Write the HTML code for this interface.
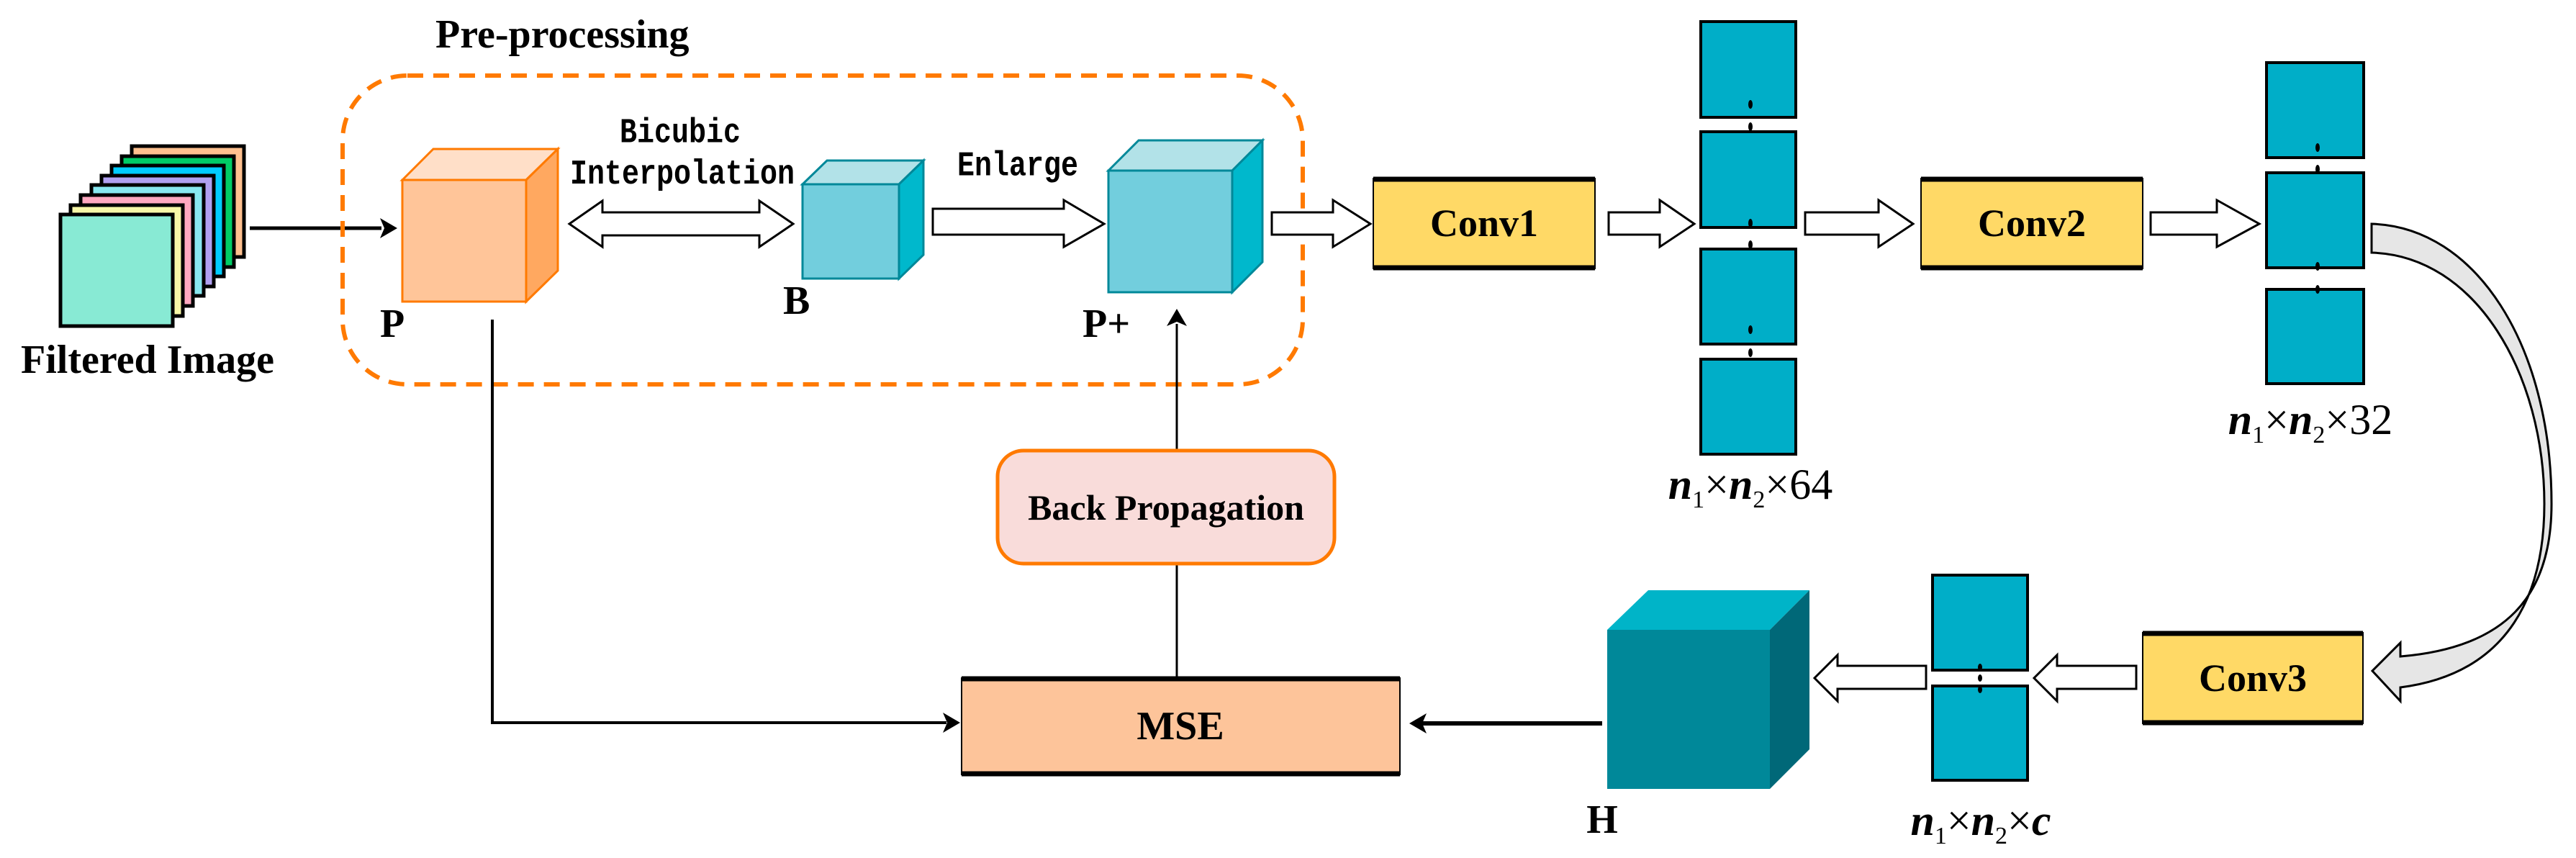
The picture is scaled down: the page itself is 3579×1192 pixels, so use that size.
<!DOCTYPE html>
<html><head><meta charset="utf-8"><style>
html,body{margin:0;padding:0;background:#fff;}
svg{display:block;}
.t{font-family:"Liberation Serif",serif;font-weight:bold;fill:#000;}
.m{font-family:"Liberation Mono",monospace;font-weight:bold;fill:#000;}
</style></head><body>
<svg width="3579" height="1192" viewBox="0 0 3579 1192" xmlns="http://www.w3.org/2000/svg">
<!-- Filtered image stack -->
<g stroke="#000" stroke-width="5">
<rect x="183" y="203" width="156" height="154" fill="#FFC08F"/>
<rect x="169" y="217" width="156" height="154" fill="#00CC66"/>
<rect x="155" y="230" width="156" height="154" fill="#00CCFF"/>
<rect x="141" y="244" width="156" height="154" fill="#B0A0F0"/>
<rect x="127" y="257" width="156" height="154" fill="#88E8F0"/>
<rect x="112" y="271" width="156" height="154" fill="#FFA8C0"/>
<rect x="98" y="285" width="156" height="154" fill="#F8F8A8"/>
<rect x="84" y="298" width="156" height="155" fill="#88EAD4"/>
</g>
<text class="t" x="205" y="518" font-size="56" text-anchor="middle">Filtered Image</text>
<line x1="347" y1="317" x2="530" y2="317" stroke="#000" stroke-width="5"/>
<polygon points="552,317 528,303 534,317 528,331" fill="#000"/>

<!-- dashed pre-processing box -->
<rect x="476" y="105" width="1334" height="429" rx="90" fill="none" stroke="#FF7A00" stroke-width="6" stroke-dasharray="22 14"/>
<text class="t" x="605" y="66" font-size="56">Pre-processing</text>

<!-- P cube -->
<g stroke="#FF7A00" stroke-width="3">
<polygon points="559,250 602,207 775,207 731,250" fill="#FFDFC8"/>
<polygon points="731,250 775,207 775,376 731,419" fill="#FFA860"/>
<rect x="559" y="250" width="172" height="169" fill="#FFC599"/>
</g>
<text class="t" x="528" y="468" font-size="56">P</text>

<!-- double arrow -->
<polygon points="791,311 837,279 837,295 1055,295 1055,279 1102,311 1055,343 1055,327 837,327 837,343" fill="#fff" stroke="#000" stroke-width="3"/>
<text class="m" x="945" y="197" font-size="40" text-anchor="middle" transform="translate(0,-39) scale(1,1.2)">Bicubic</text>
<text class="m" x="948" y="255" font-size="40" text-anchor="middle" transform="translate(0,-51) scale(1,1.2)">Interpolation</text>

<!-- B cube -->
<g stroke="#008899" stroke-width="3">
<polygon points="1115,256 1149,223 1283,223 1249,256" fill="#B2E2E8"/>
<polygon points="1249,256 1283,223 1283,354 1249,387" fill="#00B8CC"/>
<rect x="1115" y="256" width="134" height="131" fill="#72CEDD"/>
</g>
<text class="t" x="1088" y="436" font-size="56">B</text>

<!-- Enlarge arrow -->
<polygon points="1296,290 1478,290 1478,278 1534,311 1478,343 1478,326 1296,326" fill="#fff" stroke="#000" stroke-width="3"/>
<text class="m" x="1414" y="243" font-size="40" text-anchor="middle" transform="translate(0,-48) scale(1,1.2)">Enlarge</text>

<!-- P+ cube -->
<g stroke="#008899" stroke-width="3">
<polygon points="1540,237 1582,195 1754,195 1712,237" fill="#B2E2E8"/>
<polygon points="1712,237 1754,195 1754,364 1712,406" fill="#00B8CC"/>
<rect x="1540" y="237" width="172" height="169" fill="#72CEDD"/>
</g>
<text class="t" x="1504" y="468" font-size="56">P+</text>

<!-- arrows top row -->
<g fill="#fff" stroke="#000" stroke-width="3">
<polygon points="1767,295 1852,295 1852,278 1904,311 1852,343 1852,326 1767,326"/>
<polygon points="2235,295 2306,295 2306,278 2354,311 2306,343 2306,326 2235,326"/>
<polygon points="2508,295 2610,295 2610,278 2658,311 2610,343 2610,326 2508,326"/>
<polygon points="2988,295 3080,295 3080,278 3139,311 3080,343 3080,326 2988,326"/>
</g>

<!-- Conv boxes -->
<g stroke="#000" stroke-width="2" fill="#FFD966">
<rect x="1908" y="248" width="308" height="125"/>
<rect x="2669" y="248" width="308" height="125"/>
<rect x="2977" y="879" width="306" height="126"/>
</g>
<g stroke="#000" stroke-width="7">
<line x1="1908" y1="249" x2="2216" y2="249"/><line x1="1908" y1="372" x2="2216" y2="372"/>
<line x1="2669" y1="249" x2="2977" y2="249"/><line x1="2669" y1="372" x2="2977" y2="372"/>
<line x1="2977" y1="880" x2="3283" y2="880"/><line x1="2977" y1="1004" x2="3283" y2="1004"/>
</g>
<text class="t" x="2062" y="328" font-size="54" text-anchor="middle">Conv1</text>
<text class="t" x="2823" y="328" font-size="54" text-anchor="middle">Conv2</text>
<text class="t" x="3130" y="960" font-size="54" text-anchor="middle">Conv3</text>

<!-- fmaps -->
<g fill="#00AEC8" stroke="#000" stroke-width="4">
<rect x="2363" y="30" width="132" height="133"/>
<rect x="2363" y="183" width="132" height="133"/>
<rect x="2363" y="346" width="132" height="132"/>
<rect x="2363" y="499" width="132" height="132"/>
<rect x="3149" y="87" width="135" height="132"/>
<rect x="3149" y="240" width="135" height="132"/>
<rect x="3149" y="402" width="135" height="131"/>
<rect x="2685" y="799" width="132" height="132"/>
<rect x="2685" y="953" width="132" height="131"/>
</g>
<g fill="#000">
<ellipse cx="2432" cy="145" rx="3" ry="6"/><ellipse cx="2432" cy="176" rx="3" ry="6"/>
<ellipse cx="2432" cy="310" rx="3" ry="6"/><ellipse cx="2432" cy="340" rx="3" ry="6"/>
<ellipse cx="2432" cy="458" rx="3" ry="6"/><ellipse cx="2432" cy="490" rx="3" ry="6"/>
<ellipse cx="3220" cy="205" rx="3" ry="6"/><ellipse cx="3220" cy="235" rx="3" ry="6"/>
<ellipse cx="3220" cy="370" rx="3" ry="6"/><ellipse cx="3220" cy="402" rx="3" ry="6"/>
<ellipse cx="2751" cy="927" rx="3" ry="5"/><ellipse cx="2751" cy="942" rx="3" ry="5"/><ellipse cx="2751" cy="958" rx="3" ry="5"/>
</g>
<text class="t" x="2432" y="693" font-size="60" text-anchor="middle"><tspan font-style="italic">n</tspan><tspan font-size="34" font-weight="normal" dy="12">1</tspan><tspan font-weight="normal" dy="-12">×</tspan><tspan font-style="italic">n</tspan><tspan font-size="34" font-weight="normal" dy="12">2</tspan><tspan font-weight="normal" dy="-12">×64</tspan></text>
<text class="t" x="3210" y="603" font-size="60" text-anchor="middle"><tspan font-style="italic">n</tspan><tspan font-size="34" font-weight="normal" dy="12">1</tspan><tspan font-weight="normal" dy="-12">×</tspan><tspan font-style="italic">n</tspan><tspan font-size="34" font-weight="normal" dy="12">2</tspan><tspan font-weight="normal" dy="-12">×32</tspan></text>
<text class="t" x="2752" y="1160" font-size="60" text-anchor="middle"><tspan font-style="italic">n</tspan><tspan font-size="34" font-weight="normal" dy="12">1</tspan><tspan font-weight="normal" dy="-12">×</tspan><tspan font-style="italic">n</tspan><tspan font-size="34" font-weight="normal" dy="12">2</tspan><tspan font-weight="normal" dy="-12">×</tspan><tspan font-style="italic">c</tspan></text>

<!-- curved arrow -->
<path d="M3295,311 C3440,315 3545,480 3545,700 C3545,830 3480,900 3335,912 L3335,893 L3296,932 L3335,974 L3335,955 C3490,935 3535,820 3535,700 C3535,520 3440,355 3295,351 Z" fill="#E6E6E6" stroke="#000" stroke-width="3"/>

<!-- bottom left arrows -->
<g fill="#fff" stroke="#000" stroke-width="3">
<polygon points="2968,925 2858,925 2858,910 2826,942 2858,974 2858,957 2968,957"/>
<polygon points="2676,925 2553,925 2553,910 2521,942 2553,974 2553,957 2676,957"/>
</g>

<!-- H cube -->
<polygon points="2233,875 2290,820 2514,820 2459,875" fill="#00B4C8"/>
<polygon points="2459,875 2514,820 2514,1041 2459,1096" fill="#006878"/>
<rect x="2233" y="875" width="226" height="221" fill="#008899"/>
<text class="t" x="2226" y="1157" font-size="56" text-anchor="middle">H</text>

<!-- MSE -->
<rect x="1336" y="942" width="609" height="134" fill="#FDC49A" stroke="#000" stroke-width="2"/>
<line x1="1336" y1="943" x2="1945" y2="943" stroke="#000" stroke-width="7"/>
<line x1="1336" y1="1075" x2="1945" y2="1075" stroke="#000" stroke-width="7"/>
<text class="t" x="1640" y="1027" font-size="56" text-anchor="middle">MSE</text>
<line x1="2226" y1="1005" x2="1975" y2="1005" stroke="#000" stroke-width="6"/>
<polygon points="1958,1005 1982,991 1976,1005 1982,1019" fill="#000"/>

<!-- P to MSE line -->
<polyline points="684,444 684,1004 1315,1004" fill="none" stroke="#000" stroke-width="4"/>
<polygon points="1334,1004 1310,990 1316,1004 1310,1018" fill="#000"/>

<!-- Back propagation -->
<line x1="1635" y1="942" x2="1635" y2="783" stroke="#000" stroke-width="3"/>
<line x1="1635" y1="626" x2="1635" y2="450" stroke="#000" stroke-width="3"/>
<polygon points="1635,429 1621,453 1635,447 1649,453" fill="#000"/>
<rect x="1386" y="626" width="468" height="157" rx="36" fill="#F9DCDA" stroke="#FF7A00" stroke-width="5"/>
<text class="t" x="1620" y="722" font-size="50" text-anchor="middle">Back Propagation</text>
</svg>
</body></html>
